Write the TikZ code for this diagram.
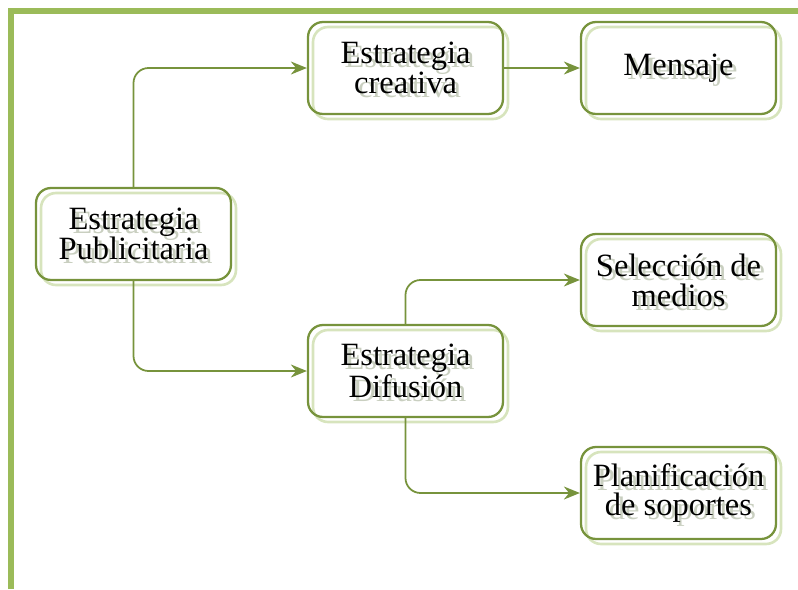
\documentclass[tikz,border=0pt]{standalone}
\usepackage{fontspec}
\setmainfont{Liberation Serif}
\usetikzlibrary{arrows.meta}

\definecolor{marco}{HTML}{9BBB59}
\definecolor{oliva}{HTML}{77933C}
\definecolor{sombra}{HTML}{D7E4BD}
\definecolor{sombratxt}{HTML}{C9CFC0}

\tikzset{
  caja/.style={draw=oliva,line width=1.3pt,rounded corners=0.3cm,
    minimum width=3.9cm,minimum height=1.84cm,align=center,
    font=\fontsize{18.5}{17}\selectfont,
    preaction={draw=sombra,line width=1.5pt,
      transform canvas={shift={(0.1cm,-0.1cm)}}}},
  txtsombra/.style={text=sombratxt,align=center,
    font=\fontsize{18.5}{17}\selectfont},
  flecha/.style={draw=oliva,line width=1pt,rounded corners=0.3cm,
    -{Stealth[length=3.2mm,width=2.6mm]}}
}
% caja con texto sombreado detras
\newcommand{\caja}[3]{%
  \node[txtsombra] at ([shift={(0.08cm,-0.08cm)}]#2) {#3};
  \node[caja] (#1) at (#2) {#3};}

\begin{document}
\begin{tikzpicture}[x=0.02cm,y=-0.02cm]
  \useasboundingbox (0,0) rectangle (798,589);
  % marco
  \draw[marco,line width=0.11cm] (11,589) -- (11,11) -- (798,11);

  \caja{pub}{133.5,234}{Estrategia\\Publicitaria}
  \caja{cre}{405.5,68}{Estrategia\\creativa}
  \caja{men}{678.5,68}{Mensaje}
  \caja{dif}{405.5,371}{Estrategia\\Difusión}
  \caja{sel}{678.5,280}{Selección de\\medios}
  \caja{pla}{678.5,493}{Planificación\\de soportes}

  \draw[flecha] (pub.north) |- (cre.west);
  \draw[flecha] (pub.south) |- (dif.west);
  \draw[flecha] (cre.east) -- (men.west);
  \draw[flecha] (dif.north) |- (sel.west);
  \draw[flecha] (dif.south) |- (pla.west);
\end{tikzpicture}
\end{document}
